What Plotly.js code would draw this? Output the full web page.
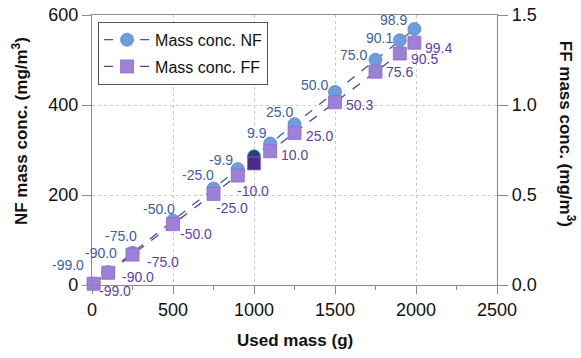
<!DOCTYPE html>
<html>
<head>
<meta charset="utf-8">
<script src="https://cdn.plot.ly/plotly-3.0.1.min.js"></script>
<style>html,body{margin:0;padding:0;background:#fff;}#chart{width:581px;height:358px;}</style>
</head>
<body>
<div id="chart"></div>
<script>
// Data
const usedMass = [10, 100, 250, 500, 750, 900, 1000, 1100, 1250, 1500, 1750, 1900, 1990];
const nfConc = [2.9, 28.6, 71.5, 143, 214.5, 257.7, 286, 314.3, 357.5, 429, 500.5, 543.7, 568.9];
const ffConc = [0.007, 0.068, 0.169, 0.338, 0.506, 0.608, 0.675, 0.743, 0.844, 1.015, 1.185, 1.286, 1.346];
const nfLabels = ["-99.0", "-90.0", "-75.0", "-50.0", "-25.0", "-9.9", "", "9.9", "25.0", "50.0", "75.0", "90.1", "98.9"];
const ffLabels = ["-99.0", "-90.0", "-75.0", "-50.0", "-25.0", "-10.0", "", "10.0", "25.0", "50.3", "75.6", "90.5", "99.4"];
const xTicks = [0, 500, 1000, 1500, 2000, 2500];
const yTicks = [0, 200, 400, 600];
const y2Ticks = [0, 0.5, 1.0, 1.5];

// Label placement nudges (pixels) — presentation only
const nfLabelDx = [-10, 9, 4, 2, 0, -5, 0, -3, -2, -7, -9, -7, -7];
const nfLabelDy = [-14, -14, -12, -7, -8, -4, 0, -6, -7, -2, 0, 3, -4];
const ffLabelDx = [5, 14, 14, 7, 2, -1, 0, 11, 11, 11, 10, 11, 11];
const ffLabelDy = [1, -2, 1, 4, 8, 9, 0, -2, -3, -3, -6, -1, -1];

const refIndex = usedMass.indexOf(1000);
const nfColors = usedMass.map((m, i) => i === refIndex ? '#1d4480' : '#6f9ddb');
const ffColors = usedMass.map((m, i) => i === refIndex ? '#4b2b8c' : '#9d80d8');

const font = 'Arial, "Liberation Sans", sans-serif';

const traces = [
  {
    x: usedMass, y: nfConc, name: 'Mass conc. NF', type: 'scatter', mode: 'lines+markers',
    legendgroup: 'nf',
    line: {color: '#3d5c9c', width: 1.3, dash: 'dash'},
    marker: {symbol: 'circle', size: 13, color: nfColors, line: {color: '#5a86c4', width: 0.8}},
    cliponaxis: false, yaxis: 'y'
  },
  {
    x: usedMass, y: ffConc, name: 'Mass conc. FF', type: 'scatter', mode: 'lines+markers',
    legendgroup: 'ff',
    line: {color: '#5b3f9c', width: 1.3, dash: 'dash'},
    marker: {symbol: 'square', size: 13, color: ffColors, line: {color: '#8a6cc8', width: 0.8}},
    cliponaxis: false, yaxis: 'y2'
  }
];

const annotations = [];
usedMass.forEach((m, i) => {
  if (nfLabels[i]) {
    annotations.push({x: m, y: nfConc[i], xref: 'x', yref: 'y', text: nfLabels[i], showarrow: false,
      xanchor: 'right', yanchor: 'bottom', xshift: nfLabelDx[i] + 2, yshift: -nfLabelDy[i] - 5,
      font: {family: font, size: 14, color: '#405d9f'}});
  }
  if (ffLabels[i]) {
    annotations.push({x: m, y: ffConc[i], xref: 'x', yref: 'y2', text: ffLabels[i], showarrow: false,
      xanchor: 'left', yanchor: 'top', xshift: ffLabelDx[i] - 2, yshift: 4 - ffLabelDy[i],
      font: {family: font, size: 14, color: '#5e3f9f'}});
  }
});

annotations.push(
  {text: '<b>Used mass (g)</b>', xref: 'paper', yref: 'paper', x: 0.5, y: 0, yshift: -55,
   xanchor: 'center', yanchor: 'middle', showarrow: false, font: {family: font, size: 17, color: '#111'}},
  {text: '<b>NF mass conc. (mg/m<sup>3</sup>)</b>', xref: 'paper', yref: 'paper', x: 0, y: 0.57, xshift: -72,
   xanchor: 'center', yanchor: 'middle', textangle: -90, showarrow: false, font: {family: font, size: 17, color: '#111'}},
  {text: '<b>FF mass conc. (mg/m<sup>3</sup>)</b>', xref: 'paper', yref: 'paper', x: 1, y: 0.56, xshift: 70,
   xanchor: 'center', yanchor: 'middle', textangle: 90, showarrow: false, font: {family: font, size: 17, color: '#111'}}
);

const layout = {
  width: 581, height: 358,
  margin: {l: 92, r: 84, t: 15, b: 73},
  paper_bgcolor: '#fff', plot_bgcolor: '#fff',
  font: {family: font, color: '#111'},
  showlegend: true,
  legend: {
    x: 0.015, y: 0.975, xanchor: 'left', yanchor: 'top',
    bgcolor: '#fff', bordercolor: '#555', borderwidth: 1,
    font: {family: font, size: 16, color: '#111'},
    tracegroupgap: 3, itemwidth: 46
  },
  xaxis: {
    range: [0, 2500], tickvals: xTicks, ticktext: xTicks.map(String),
    showline: true, linecolor: '#8a8a8a', linewidth: 1.2, mirror: true,
    ticks: 'outside', ticklen: 8, tickcolor: '#8a8a8a',
    minor: {dtick: 250, ticks: 'outside', ticklen: 4, tickcolor: '#8a8a8a', showgrid: false},
    showgrid: true, gridcolor: '#c8c8c8', griddash: 'dot', gridwidth: 1,
    zeroline: false,
    tickfont: {family: font, size: 18, color: '#111'}
  },
  yaxis: {
    range: [0, 600], tickvals: yTicks, ticktext: yTicks.map(String),
    showline: true, linecolor: '#8a8a8a', linewidth: 1.2,
    ticks: 'outside', ticklen: 9, tickcolor: '#8a8a8a',
    showgrid: true, gridcolor: '#c8c8c8', griddash: 'dot', gridwidth: 1,
    zeroline: false,
    tickfont: {family: font, size: 18, color: '#111'}
  },
  yaxis2: {
    range: [0, 1.5], tickvals: y2Ticks, ticktext: y2Ticks.map(v => v.toFixed(1)),
    overlaying: 'y', side: 'right',
    showline: true, linecolor: '#8a8a8a', linewidth: 1.2,
    ticks: 'outside', ticklen: 10, tickcolor: '#8a8a8a',
    showgrid: false, zeroline: false,
    tickfont: {family: font, size: 18, color: '#111'}
  },
  annotations: annotations
};

Plotly.newPlot('chart', traces, layout, {displayModeBar: false, staticPlot: true});
</script>
</body>
</html>
